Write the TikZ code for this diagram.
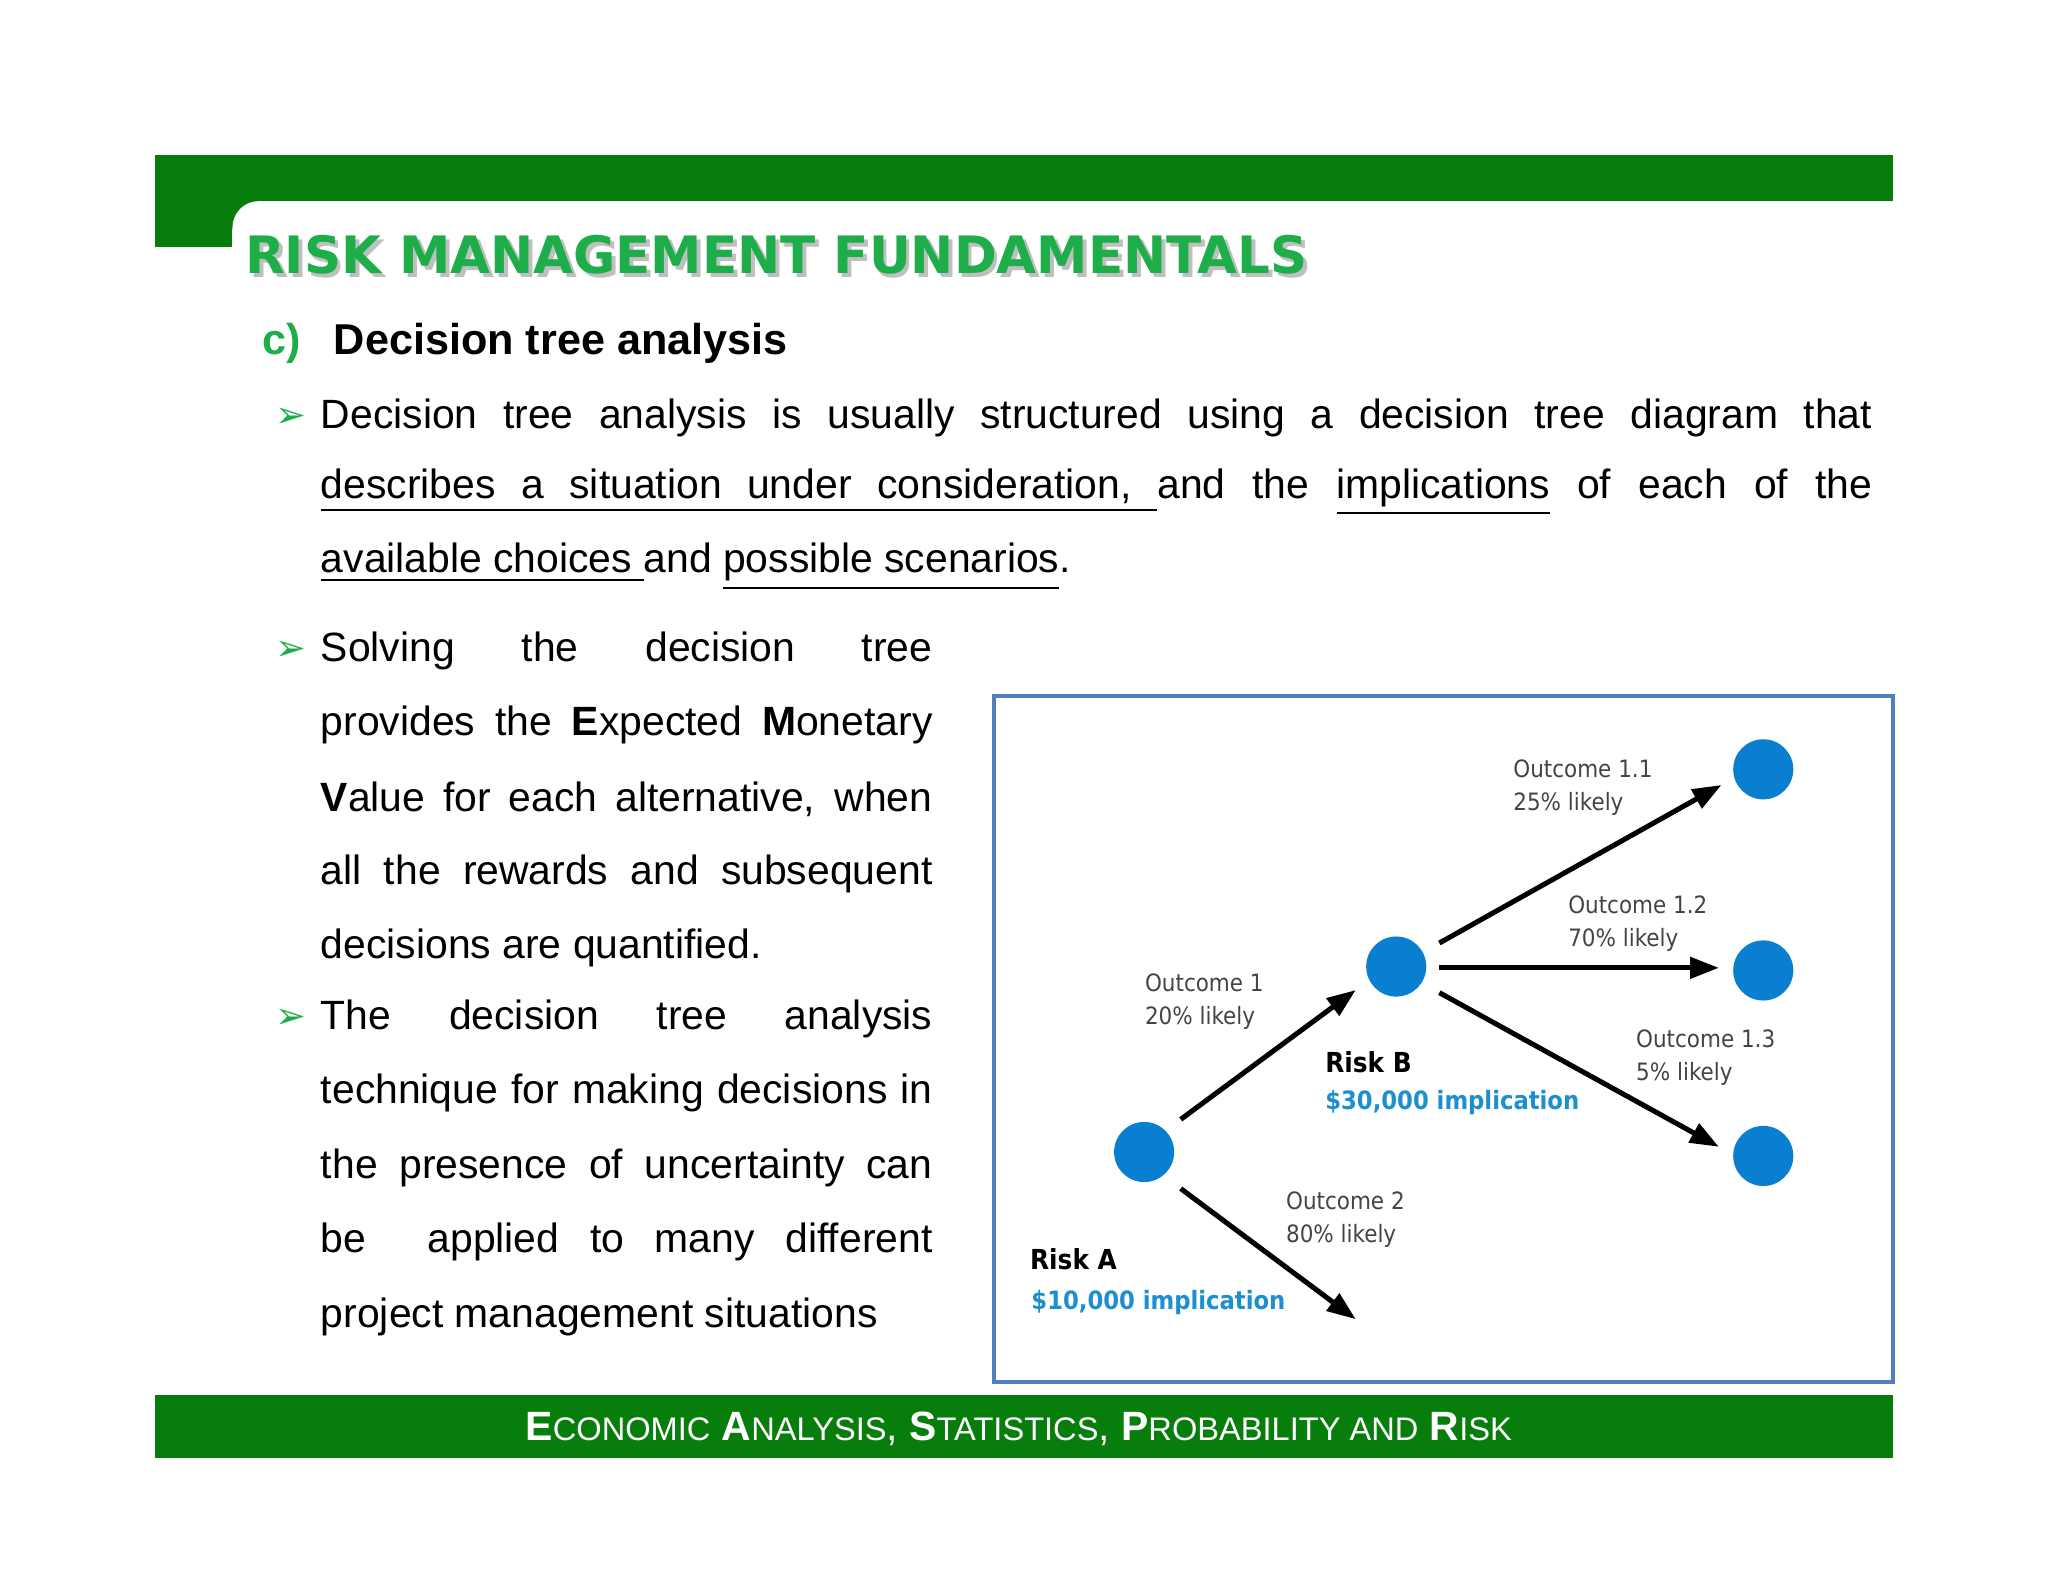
\documentclass[tikz,border=0pt]{standalone}
\usepackage{fontspec}
\setmainfont{DejaVu Sans}
\newfontfamily\bodyf{Liberation Sans}
\newfontfamily\diagf{DejaVu Sans Condensed}
\usetikzlibrary{arrows.meta}
\definecolor{hdrgreen}{HTML}{077D0C}
\definecolor{ttlgreen}{HTML}{1DAE4A}
\definecolor{circblue}{HTML}{0A7FD0}
\definecolor{txtblue}{HTML}{1B8FD0}
\definecolor{boxblue}{HTML}{4F7FBF}
\definecolor{lblgray}{HTML}{444444}
\newcommand{\jline}[1]{\makebox[11.87cm][s]{#1}}
\newcommand{\kline}[1]{\makebox[4.68cm][s]{#1}}
\begin{document}
\begin{tikzpicture}[x=0.01cm,y=-0.01cm,
  body/.style={anchor=west,inner sep=0,font=\bodyf\fontsize{8.9pt}{11pt}\selectfont},
  lbl/.style={anchor=north west,inner sep=0,align=left,text=lblgray,font=\diagf\fontsize{5.2pt}{7.2pt}\selectfont},
  risk/.style={anchor=west,inner sep=0,font=\diagf\bfseries\fontsize{6pt}{7pt}\selectfont},
  impl/.style={anchor=west,inner sep=0,text=txtblue,font=\diagf\bfseries\fontsize{5.5pt}{7pt}\selectfont},
  dot/.style={circle,fill=circblue,minimum size=0.46cm,inner sep=0},
  arr/.style={-{Triangle[length=0.22cm,width=0.16cm]},line width=1.1pt},
  bul/.style={anchor=west,inner sep=0,text=ttlgreen,font=\fontsize{8pt}{9pt}\selectfont}]
\useasboundingbox (0,0) rectangle (1568,1211);
\fill[white] (0,0) rectangle (1568,1211);
% header
\fill[hdrgreen] (119,119) rectangle (1449,154);
\fill[hdrgreen] (119,154) rectangle (178,189);
\fill[hdrgreen] (178,154) rectangle (200,176);
\fill[white,rounded corners=0.2cm] (178,154) rectangle (1449,260);
\fill[white] (178,200) rectangle (1449,260);
\fill[white] (1400,154) rectangle (1449,260);
\node[anchor=west,inner sep=0,text=gray!50] (tts) at (190,198) {\resizebox{8.13cm}{!}{\bfseries RISK MANAGEMENT FUNDAMENTALS}};
\node[anchor=west,inner sep=0,text=ttlgreen] (ttl) at (187,195) {\resizebox{8.13cm}{!}{\bfseries RISK MANAGEMENT FUNDAMENTALS}};
\node[anchor=west,inner sep=0,text=ttlgreen,font=\bodyf\bfseries\fontsize{9.4pt}{11pt}\selectfont] (cc) at (200,263) {c)};
\node[anchor=west,inner sep=0,font=\bodyf\bfseries\fontsize{9.4pt}{11pt}\selectfont] (sub) at (255,263) {Decision tree analysis};
% paragraph 1
\node[bul] (b1) at (210,320) {➢};
\node[body] (p11) at (245,320) {\jline{Decision tree analysis is usually structured using a decision tree diagram that}};
\node[body] (p12) at (245,377) {\jline{\underline{\makebox[6.4cm][s]{describes a situation under consideration,\ }}and the \underline{implications} of each of the}};
\node[body] (p13) at (245,434) {\underline{available choices }and \underline{possible scenarios}.};
% paragraph 2
\node[bul] (b2) at (210,498) {➢};
\node[body] (p21) at (245,498) {\kline{Solving the decision tree}};
\node[body] (p22) at (245,555) {\kline{provides the \textbf{E}xpected \textbf{M}onetary}};
\node[body] (p23) at (245,612) {\kline{\textbf{V}alue for each alternative, when}};
\node[body] (p24) at (245,669) {\kline{all the rewards and subsequent}};
\node[body] (p25) at (245,726) {decisions are quantified.};
\node[bul] (b3) at (210,780) {➢};
\node[body] (p31) at (245,780) {\kline{The decision tree analysis}};
\node[body] (p32) at (245,837) {\kline{technique for making decisions in}};
\node[body] (p33) at (245,894) {\kline{the presence of uncertainty can}};
\node[body] (p34) at (245,951) {\kline{be \ applied to many different}};
\node[body] (p35) at (245,1008) {project management situations};
% diagram box
\draw[boxblue,line width=0.9pt] (761,533) rectangle (1449,1058);
\node[dot] (A) at (876,882) {};
\node[dot] (B) at (1069,740) {};
\node[dot] (C1) at (1350,589) {};
\node[dot] (C2) at (1350,743) {};
\node[dot] (C3) at (1350,885) {};
\coordinate (E) at (1038,1010);
\draw[arr] ([shift={(28,-25)}]A.center) -- ([shift={(-31,18)}]B.center);
\draw[arr] ([shift={(28,28)}]A.center) -- (E);
\draw[arr] ([shift={(33,-18)}]B.center) -- ([shift={(-32,12)}]C1.center);
\draw[arr] ([shift={(33,1)}]B.center) -- ([shift={(-34,-2)}]C2.center);
\draw[arr] ([shift={(33,20)}]B.center) -- ([shift={(-34,-7)}]C3.center);
\node[lbl] (l1) at (876,745) {Outcome 1\\20\% likely};
\node[lbl] (l2) at (984,912) {Outcome 2\\80\% likely};
\node[lbl] (l11) at (1158,581) {Outcome 1.1\\25\% likely};
\node[lbl] (l12) at (1200,685) {Outcome 1.2\\70\% likely};
\node[lbl] (l13) at (1252,788) {Outcome 1.3\\5\% likely};
\node[risk] (ra) at (788,964) {Risk A};
\node[impl] (ia) at (789,997) {\$10,000 implication};
\node[risk] (rb) at (1014,813) {Risk B};
\node[impl] (ib) at (1014,844) {\$30,000 implication};
% footer
\fill[hdrgreen] (119,1068) rectangle (1449,1116);
\node[inner sep=0,text=white,font=\bodyf\fontsize{8.9pt}{9pt}\selectfont] (ft) at (780,1094)
 {\textbf{E}{\fontsize{7.1pt}{8pt}\selectfont CONOMIC} \textbf{A}{\fontsize{7.1pt}{8pt}\selectfont NALYSIS}, \textbf{S}{\fontsize{7.1pt}{8pt}\selectfont TATISTICS}, \textbf{P}{\fontsize{7.1pt}{8pt}\selectfont ROBABILITY AND} \textbf{R}{\fontsize{7.1pt}{8pt}\selectfont ISK}};
\end{tikzpicture}
\end{document}
